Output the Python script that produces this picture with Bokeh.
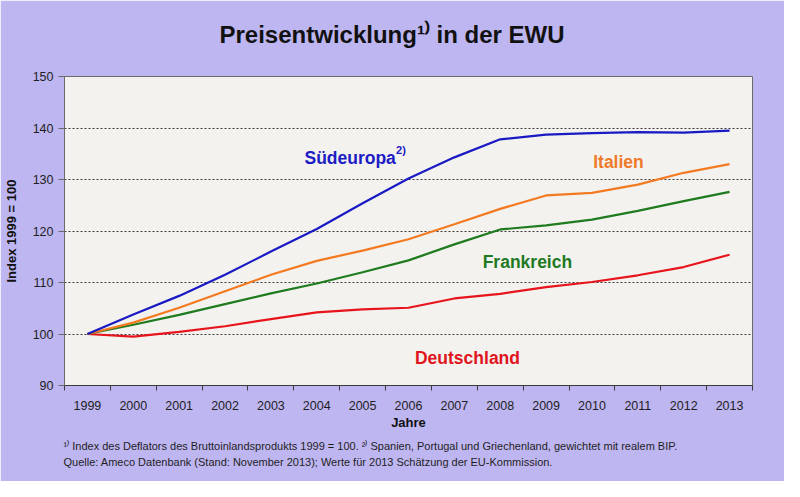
from bokeh.plotting import figure
from bokeh.models import Label, FixedTicker, Range1d, Title
from bokeh.embed import file_html
from bokeh.resources import INLINE

# ---------------- data ----------------
years = ["1999", "2000", "2001", "2002", "2003", "2004", "2005", "2006",
         "2007", "2008", "2009", "2010", "2011", "2012", "2013"]
suedeuropa = [100.0, 103.8, 107.4, 111.5, 116.0, 120.4, 125.4, 130.2,
              134.3, 137.8, 138.7, 139.0, 139.2, 139.1, 139.5]
italien = [100.0, 102.2, 105.1, 108.3, 111.5, 114.2, 116.2, 118.4,
           121.3, 124.3, 126.9, 127.4, 129.0, 131.3, 133.0]
frankreich = [100.0, 101.8, 103.7, 105.8, 107.9, 109.8, 112.0, 114.3,
              117.4, 120.3, 121.1, 122.2, 123.9, 125.8, 127.6]
deutschland = [100.0, 99.5, 100.4, 101.5, 102.9, 104.2, 104.8, 105.1,
               106.9, 107.8, 109.1, 110.1, 111.4, 113.0, 115.4]
y_ticks = [90, 100, 110, 120, 130, 140, 150]

x_idx = list(range(len(years)))

# ---------------- layout ----------------
W, H = 784, 481
ML, MR, MT, MB = 61, 32, 76, 96
FW = W - ML - MR
FH = H - MT - MB
X0, X1 = -0.5, len(years) - 0.5
Y0, Y1 = 90, 150


def px_x(px):
    """page x pixel -> data x"""
    return X0 + (px - 8 - ML) * (X1 - X0) / FW


def px_y(py):
    """page y pixel -> data y"""
    return Y1 - (py - 8 - MT) * (Y1 - Y0) / FH


p = figure(width=W, height=H, output_backend="svg", toolbar_location=None,
           x_range=Range1d(X0, X1), y_range=Range1d(Y0, Y1),
           min_border_left=ML, min_border_right=MR,
           min_border_top=MT, min_border_bottom=MB)
p.background_fill_color = "#F3F2EF"
p.border_fill_color = "#BEB6F1"
p.outline_line_color = "#6A6A6A"
p.outline_line_width = 1

# grid
p.xgrid.grid_line_color = None
p.ygrid.grid_line_color = "#3A3A3A"
p.ygrid.grid_line_dash = "2 2"
p.ygrid.grid_line_width = 1

# axes
FONT = "Liberation Sans"
p.yaxis.ticker = FixedTicker(ticks=y_ticks)
p.yaxis.axis_line_color = "#6A6A6A"
p.yaxis.major_tick_line_color = "#6A6A6A"
p.yaxis.major_tick_out = 6
p.yaxis.major_tick_in = 0
p.yaxis.minor_tick_line_color = None
p.yaxis.major_label_text_font = FONT
p.yaxis.major_label_text_font_size = "12.5px"
p.yaxis.major_label_text_color = "#1E1E1E"
p.yaxis.major_label_standoff = 5
p.yaxis.axis_label = "Index 1999 = 100"
p.yaxis.axis_label_text_font = FONT
p.yaxis.axis_label_text_font_size = "13px"
p.yaxis.axis_label_text_font_style = "bold"
p.yaxis.axis_label_text_color = "#111111"
p.yaxis.axis_label_standoff = 11

p.xaxis.ticker = FixedTicker(ticks=x_idx,
                             minor_ticks=[i - 0.5 for i in range(len(years) + 1)])
p.xaxis.major_label_overrides = {i: y for i, y in zip(x_idx, years)}
p.xaxis.axis_line_color = "#3A3A3A"
p.xaxis.major_tick_line_color = None
p.xaxis.major_tick_out = 0
p.xaxis.major_tick_in = 0
p.xaxis.minor_tick_line_color = "#3A3A3A"
p.xaxis.minor_tick_out = 5
p.xaxis.minor_tick_in = 0
p.xaxis.major_label_text_font = FONT
p.xaxis.major_label_text_font_size = "12.5px"
p.xaxis.major_label_text_color = "#1E1E1E"
p.xaxis.major_label_standoff = 10
p.xaxis.axis_label = "Jahre"
p.xaxis.axis_label_text_font = FONT
p.xaxis.axis_label_text_font_size = "13px"
p.xaxis.axis_label_text_font_style = "bold"
p.xaxis.axis_label_text_color = "#111111"
p.xaxis.axis_label_standoff = 2

# lines
p.line(x_idx, deutschland, line_color="#E8141C", line_width=2.2)
p.line(x_idx, frankreich, line_color="#1E7B1E", line_width=2.2)
p.line(x_idx, italien, line_color="#F47A22", line_width=2.2)
p.line(x_idx, suedeuropa, line_color="#1A1AC4", line_width=2.2)


def lab(px, py, text, size, color, bold=True, font=FONT):
    p.add_layout(Label(x=px_x(px), y=px_y(py), text=text, text_font=font,
                       text_font_size=f"{size}px",
                       text_font_style="bold" if bold else "normal",
                       text_color=color, text_align="left",
                       text_baseline="middle"))


# series labels (page x of left edge, page y of text centre)
lab(310, 165, "Südeuropa", 17.5, "#1C1CC4")
lab(402, 157.5, "2)", 11, "#1C1CC4")
lab(600, 169.5, "Italien", 17.5, "#EE7A2A")
lab(489, 269.5, "Frankreich", 17.5, "#1F7A1F")
lab(421, 365, "Deutschland", 17.5, "#E0141C")

# title (a thin spacer keeps it away from the plot area)
spacer = Title(text=" ", standoff=26, text_font=FONT, text_font_size="1px")
p.add_layout(spacer, "above")
title = Title(text="Preisentwicklung¹⁾ in der EWU", align="left", offset=155,
              standoff=0, text_font=FONT, text_font_size="24px",
              text_font_style="bold", text_color="#111111")
p.add_layout(title, "above")

# footnotes
foot1 = Title(text="¹⁾ Index des Deflators des Bruttoinlandsprodukts 1999 = 100. "
                   "²⁾ Spanien, Portugal und Griechenland, gewichtet mit realem BIP.",
              align="left", offset=-1, standoff=10, text_font=FONT,
              text_font_size="11px", text_font_style="normal",
              text_color="#1E1E1E")
foot2 = Title(text="Quelle: Ameco Datenbank (Stand: November 2013); Werte für 2013 "
                   "Schätzung der EU-Kommission.",
              align="left", offset=-1, standoff=-5, text_font=FONT,
              text_font_size="11px", text_font_style="normal",
              text_color="#1E1E1E")
p.add_layout(foot1, "below")
p.add_layout(foot2, "below")

open("out.html", "w").write(file_html(p, INLINE))
